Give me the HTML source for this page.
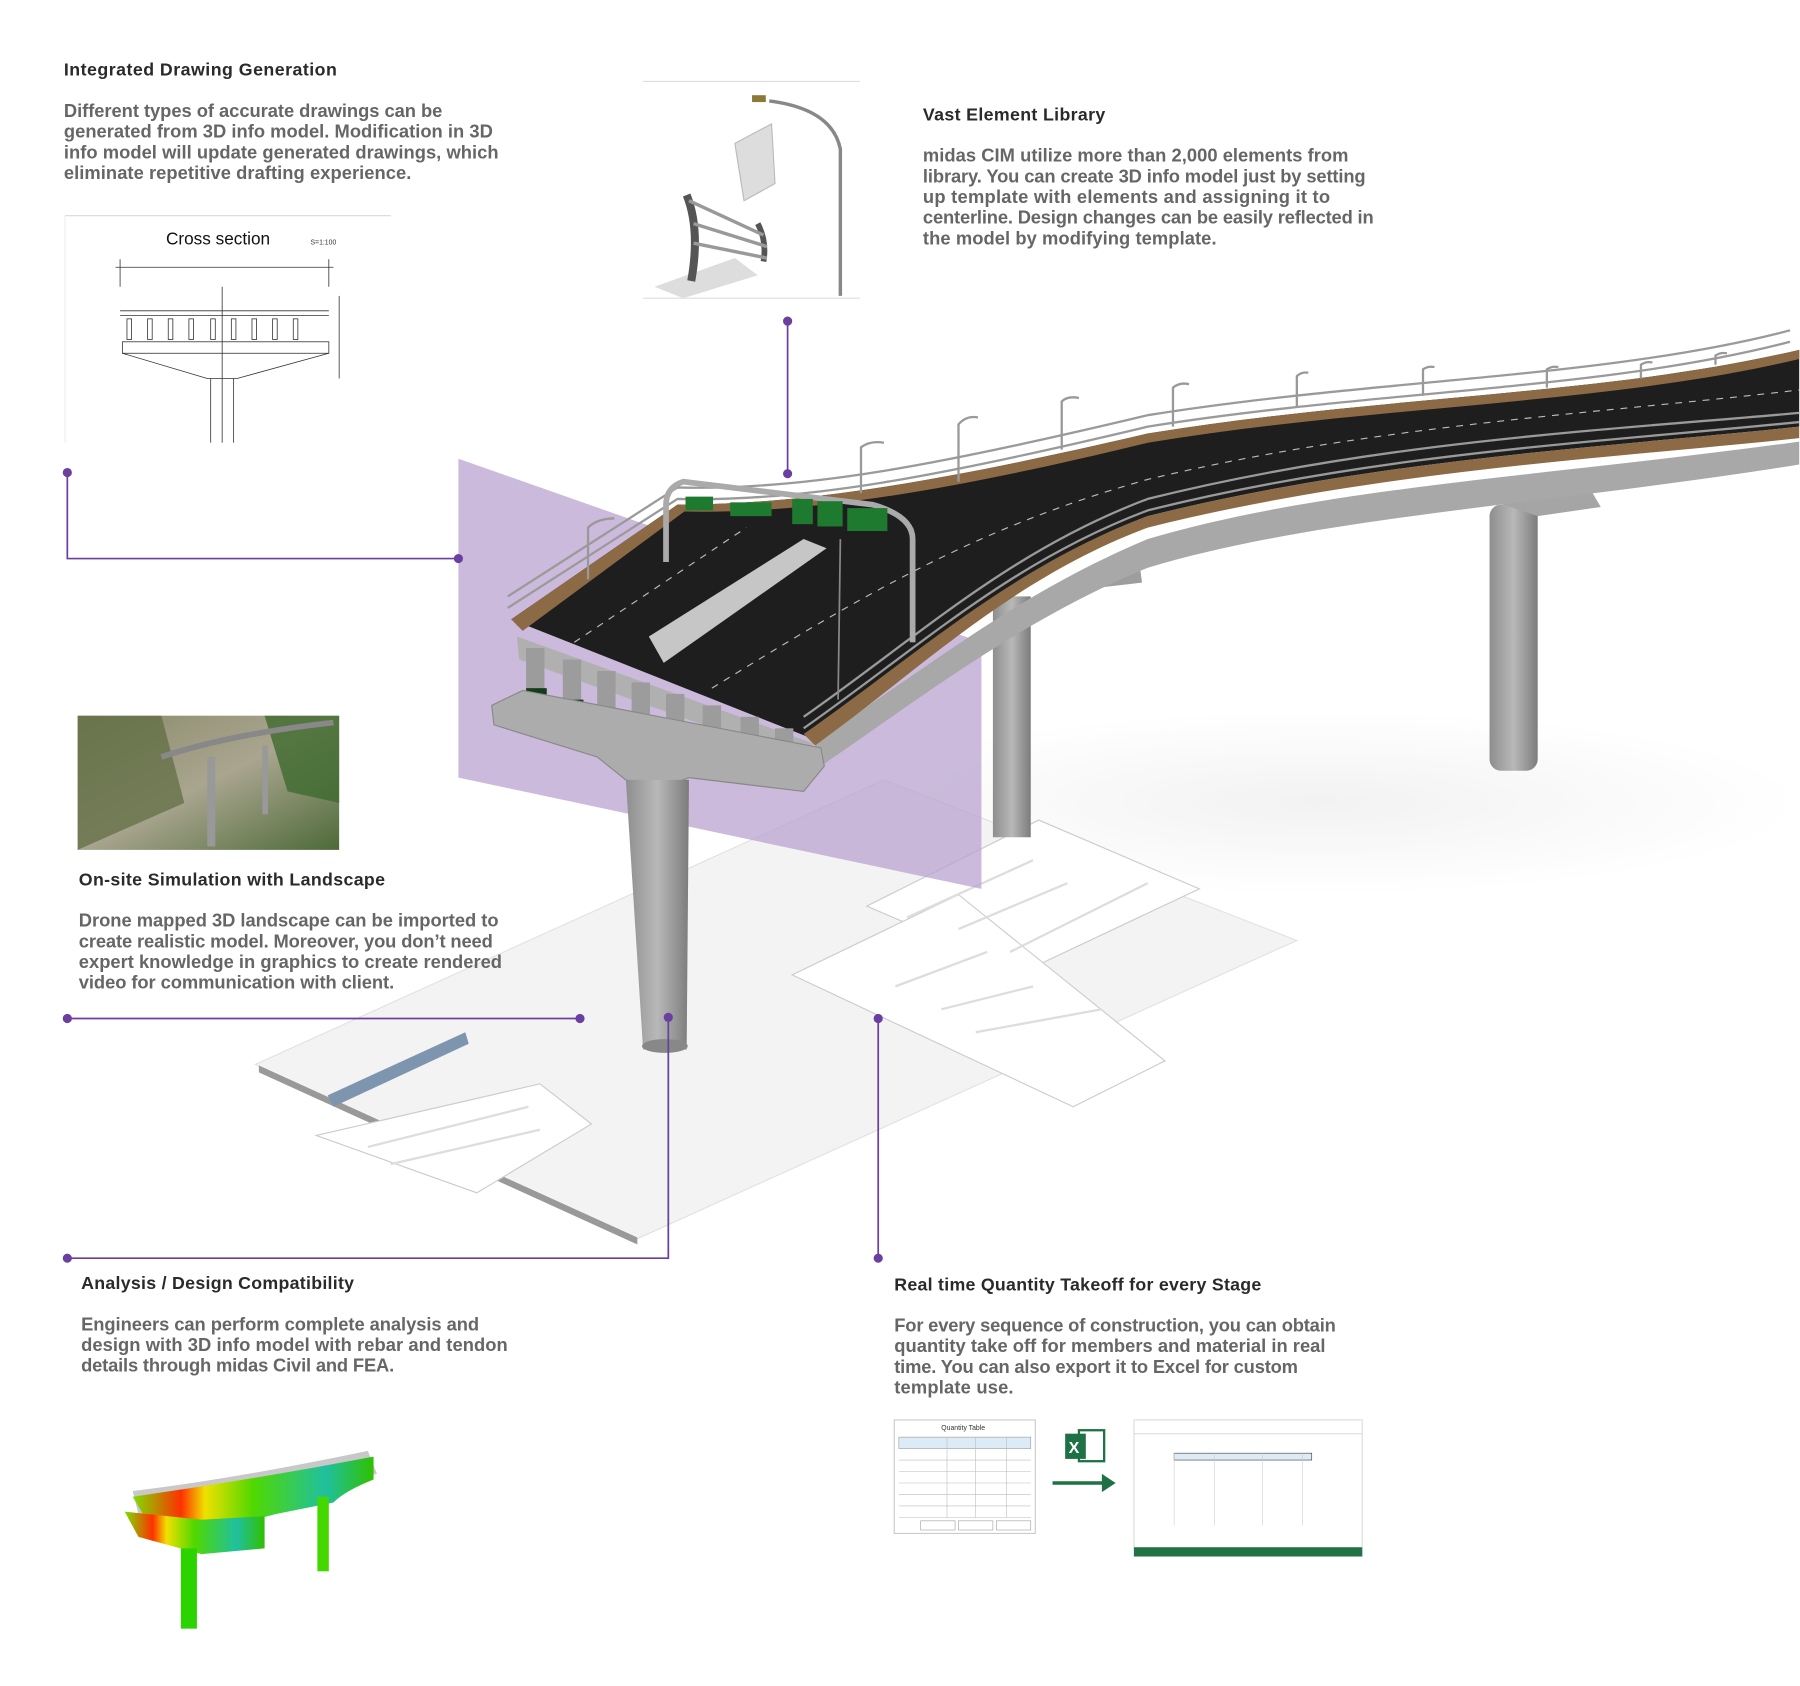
<!DOCTYPE html>
<html><head><meta charset="utf-8"><style>
html,body{margin:0;padding:0;background:#fff;}
svg{display:block;}
.t{font-family:"Liberation Sans",sans-serif;font-weight:bold;font-size:15.5px;fill:#2a2a2a;}
.b{font-family:"Liberation Sans",sans-serif;font-weight:bold;font-size:16px;fill:#666;}
.s{font-family:"Liberation Sans",sans-serif;font-size:6px;fill:#333;}
</style></head><body>
<svg width="1800" height="1686" viewBox="0 0 1568 1470" xmlns="http://www.w3.org/2000/svg">
<defs>
<linearGradient id="land" x1="0" y1="0" x2="1" y2="1"><stop offset="0" stop-color="#8a8a6a"/><stop offset="0.5" stop-color="#a9a58f"/><stop offset="1" stop-color="#4d6a38"/></linearGradient>
<linearGradient id="conc" x1="0" y1="0" x2="1" y2="0"><stop offset="0" stop-color="#8e8e8e"/><stop offset="0.5" stop-color="#b8b8b8"/><stop offset="1" stop-color="#7c7c7c"/></linearGradient>
<linearGradient id="fea" x1="0" y1="0" x2="1" y2="0"><stop offset="0" stop-color="#7ddf00"/><stop offset="0.2" stop-color="#ff3000"/><stop offset="0.3" stop-color="#f0e000"/><stop offset="0.5" stop-color="#50d800"/><stop offset="0.8" stop-color="#20c0a0"/><stop offset="1" stop-color="#30c000"/></linearGradient>
<radialGradient id="shd"><stop offset="0" stop-color="#f2f2f2"/><stop offset="1" stop-color="#fff"/></radialGradient>
</defs>

<ellipse cx="1150" cy="700" rx="420" ry="80" fill="url(#shd)"/>
<polygon points="222,928 770,680 1130,820 555,1080" fill="#f3f3f3" stroke="#e2e2e2"/>
<polygon points="225,935 555,1085 555,1079 225,929" fill="#999"/>
<polygon points="755,790 905,715 1045,775 890,848" fill="#fff" stroke="#ccc"/>
<polygon points="690,850 835,780 1015,925 935,965" fill="#fff" stroke="#ccc"/>
<polygon points="275,990 470,945 515,980 415,1040" fill="#fff" stroke="#ccc"/>
<polygon points="285,955 405,900 408,910 290,965" fill="#7e95b0"/>
<g stroke="#ddd" stroke-width="2" fill="none">
<line x1="790" y1="800" x2="900" y2="750"/><line x1="835" y1="810" x2="930" y2="770"/><line x1="880" y1="830" x2="1000" y2="770"/>
<line x1="780" y1="860" x2="860" y2="830"/><line x1="820" y1="880" x2="900" y2="860"/><line x1="850" y1="900" x2="960" y2="880"/>
<line x1="320" y1="1000" x2="460" y2="965"/><line x1="340" y1="1015" x2="470" y2="985"/>
</g>

<polygon points="399,400 855,560 855,775 399,678" fill="#b9a3cf" opacity="0.75"/>

<rect x="1298" y="440" width="42" height="232" rx="10" fill="url(#conc)"/>
<polygon points="1305,422 1385,425 1395,442 1340,450 1310,440" fill="#a5a5a5"/>
<rect x="865" y="520" width="33" height="210" fill="url(#conc)"/>
<polygon points="955,492 992,485 995,508 960,512" fill="#9d9d9d"/>

<path d="M710,645 C800,590 880,520 1000,470 C1150,425 1350,415 1568,385 L1568,405 C1350,440 1150,450 1000,495 C890,540 800,610 712,670 Z" fill="#a8a8a8"/>
<path d="M445,540 L590,440 C700,440 820,420 1000,378 C1200,345 1400,345 1568,305 L1568,372 C1400,390 1200,400 1000,450 C880,495 800,575 710,645 Z" fill="#1e1e1e"/>
<path d="M445,540 L590,440 L596,446 L455,550 Z" fill="#8b6a45"/>
<path d="M700,640 C800,570 880,495 1000,450 C1200,400 1400,390 1568,372 L1568,382 C1400,400 1200,410 1000,460 C880,505 800,585 710,650 Z" fill="#8b6a45"/>
<path d="M590,440 C700,440 820,420 1000,378 C1200,345 1400,345 1568,305 L1568,313 C1400,353 1200,353 1000,386 C820,430 700,448 596,446 Z" fill="#8b6a45"/>
<polygon points="565,555 700,470 720,478 578,578" fill="#c6c6c6"/>
<g stroke="#bbb" stroke-width="1" fill="none" stroke-dasharray="6 6">
<path d="M500,560 L650,460"/><path d="M620,600 C750,520 850,460 1000,418 C1200,370 1400,360 1568,340"/>
</g>
<g stroke="#9a9a9a" stroke-width="2" fill="none">
<path d="M442,520 L590,425 C700,428 820,405 1000,362 C1200,330 1400,330 1560,288"/>
<path d="M442,530 L590,435 C700,438 820,415 1000,372 C1200,340 1400,340 1560,298"/>
<path d="M700,625 C800,555 880,480 1000,435 C1200,385 1400,375 1568,360"/>
<path d="M700,635 C800,565 880,490 1000,445 C1200,395 1400,385 1568,368"/>
</g>
<g stroke="#888" stroke-width="1.5">
<line x1="730" y1="610" x2="732" y2="470"/><line x1="795" y1="560" x2="795" y2="460"/>
</g>
<path d="M580,490 L580,440 Q580,425 595,420 L760,440 Q795,450 795,470 L795,560" stroke="#aaa" stroke-width="5" fill="none"/>
<rect x="597" y="433" width="24" height="12" fill="#1d7a2e"/><rect x="636" y="438" width="36" height="12" fill="#1d7a2e"/>
<rect x="690" y="435" width="18" height="22" fill="#1d7a2e"/><rect x="712" y="437" width="22" height="22" fill="#1d7a2e"/><rect x="738" y="443" width="35" height="20" fill="#1d7a2e"/>
<polygon points="450,555 708,648 705,665 452,575" fill="#b0b0b0"/>
<g fill="#9c9c9c">
<rect x="458" y="565" width="16" height="40"/><rect x="490" y="575" width="16" height="42"/><rect x="520" y="585" width="16" height="42"/><rect x="550" y="595" width="16" height="42"/><rect x="580" y="605" width="16" height="42"/><rect x="612" y="615" width="16" height="42"/><rect x="645" y="625" width="16" height="42"/><rect x="675" y="635" width="16" height="40"/>
</g>
<g fill="#123d1a">
<rect x="458" y="600" width="18" height="8"/><rect x="490" y="610" width="18" height="8"/><rect x="520" y="620" width="18" height="8"/><rect x="550" y="630" width="18" height="8"/><rect x="580" y="640" width="18" height="8"/><rect x="612" y="650" width="18" height="8"/><rect x="645" y="660" width="18" height="8"/>
</g>
<polygon points="428,615 455,602 715,652 718,668 700,690 600,678 575,688 545,680 520,660 430,632" fill="#acacac" stroke="#888"/>
<polygon points="545,680 600,680 598,915 560,915" fill="url(#conc)"/>
<ellipse cx="579" cy="912" rx="20" ry="6" fill="#888"/>

<g stroke="#999" stroke-width="2" fill="none">
<path d="M512,505 L512,460 Q520,452 535,452"/><path d="M750,430 L750,390 Q758,384 770,386"/><path d="M835,420 L835,370 Q842,362 852,364"/><path d="M925,392 L925,350 Q930,345 940,347"/><path d="M1022,372 L1022,338 Q1028,333 1036,335"/><path d="M1130,354 L1130,328 Q1134,324 1140,325"/><path d="M1240,345 L1240,322 Q1244,319 1250,320"/><path d="M1348,338 L1348,322 Q1352,319 1358,320"/><path d="M1430,330 L1430,318 Q1434,315 1440,316"/><path d="M1495,318 L1495,310 Q1499,307 1505,308"/>
</g>

<g stroke="#6b3fa0" stroke-width="1.5" fill="none">
<polyline points="58,412 58,487 399,487"/>
<line x1="686" y1="280" x2="686" y2="413"/>
<line x1="58" y1="888" x2="505" y2="888"/>
<polyline points="582,887 582,1097 58,1097"/>
<line x1="765" y1="888" x2="765" y2="1097"/>
</g>
<g fill="#6b3fa0">
<circle cx="58" cy="412" r="4"/><circle cx="399" cy="487" r="4"/><circle cx="686" cy="280" r="4"/><circle cx="686" cy="413" r="4"/>
<circle cx="58" cy="888" r="4"/><circle cx="505" cy="888" r="4"/><circle cx="582" cy="887" r="4"/><circle cx="58" cy="1097" r="4"/><circle cx="765" cy="888" r="4"/><circle cx="765" cy="1097" r="4"/>
</g>

<line x1="56" y1="188" x2="340" y2="188" stroke="#ddd"/>
<line x1="56" y1="188" x2="56" y2="386" stroke="#eee"/>
<text x="144" y="213" font-family="Liberation Sans,sans-serif" font-size="15" fill="#111">Cross section</text>
<text x="270" y="213" class="s" font-size="9">S=1:100</text>
<g stroke="#333" stroke-width="0.7" fill="none">
<line x1="100" y1="233" x2="290" y2="233"/><line x1="104" y1="226" x2="104" y2="250"/><line x1="286" y1="226" x2="286" y2="250"/>
<line x1="104" y1="271" x2="286" y2="271"/><line x1="104" y1="275" x2="286" y2="275"/>
<rect x="110" y="278" width="4" height="18"/><rect x="128" y="278" width="4" height="18"/><rect x="146" y="278" width="4" height="18"/><rect x="164" y="278" width="4" height="18"/><rect x="183" y="278" width="4" height="18"/><rect x="201" y="278" width="4" height="18"/><rect x="219" y="278" width="4" height="18"/><rect x="237" y="278" width="4" height="18"/><rect x="255" y="278" width="4" height="18"/>
<rect x="106" y="298" width="180" height="10"/>
<path d="M106,308 L180,330 L206,330 L286,308"/>
<line x1="183" y1="330" x2="183" y2="386"/><line x1="203" y1="330" x2="203" y2="386"/><line x1="193" y1="250" x2="193" y2="386"/>
<line x1="295" y1="258" x2="295" y2="330"/>
</g>

<line x1="560" y1="71" x2="749" y2="71" stroke="#ddd"/>
<line x1="560" y1="260" x2="749" y2="260" stroke="#ddd"/>
<path d="M732,258 L732,130 Q725,95 670,88" stroke="#888" stroke-width="3" fill="none"/>
<rect x="655" y="83" width="12" height="6" fill="#8a7a3a"/>
<polygon points="640,125 672,108 675,160 648,175" fill="#ddd" stroke="#bbb"/>
<polygon points="570,250 640,225 660,240 595,260" fill="#ddd"/>
<path d="M598,170 Q610,200 602,245" stroke="#555" stroke-width="7" fill="none"/>
<path d="M660,195 Q668,210 665,228" stroke="#555" stroke-width="5" fill="none"/>
<g stroke="#999" stroke-width="3"><line x1="600" y1="175" x2="665" y2="205"/><line x1="604" y1="195" x2="668" y2="215"/><line x1="604" y1="212" x2="668" y2="225"/></g>

<rect x="67" y="624" width="228" height="117" fill="url(#land)"/>
<path d="M67,624 L140,624 L160,700 L67,741 Z" fill="#5d6b3e" opacity="0.7"/>
<path d="M230,624 L295,624 L295,700 L250,690 Z" fill="#3f6a2e" opacity="0.8"/>
<path d="M140,660 Q200,640 290,630" stroke="#888" stroke-width="5" fill="none"/>
<rect x="180" y="660" width="7" height="78" fill="#999"/><rect x="228" y="650" width="5" height="60" fill="#999"/>

<text class="t" x="55" y="66" textLength="238">Integrated Drawing Generation</text>
<text class="b" x="55" y="102" textLength="330">Different types of accurate drawings can be</text>
<text class="b" x="55" y="120" textLength="374">generated from 3D info model. Modification in 3D</text>
<text class="b" x="55" y="138" textLength="379">info model will update generated drawings, which</text>
<text class="b" x="55" y="156" textLength="303">eliminate repetitive drafting experience.</text>

<text class="t" x="804" y="105" textLength="159">Vast Element Library</text>
<text class="b" x="804" y="141" textLength="371">midas CIM utilize more than 2,000 elements from</text>
<text class="b" x="804" y="159" textLength="386">library. You can create 3D info model just by setting</text>
<text class="b" x="804" y="177" textLength="355">up template with elements and assigning it to</text>
<text class="b" x="804" y="195" textLength="393">centerline. Design changes can be easily reflected in</text>
<text class="b" x="804" y="213" textLength="256">the model by modifying template.</text>

<text class="t" x="68" y="772" textLength="267">On-site Simulation with Landscape</text>
<text class="b" x="68" y="808" textLength="366">Drone mapped 3D landscape can be imported to</text>
<text class="b" x="68" y="826" textLength="361">create realistic model. Moreover, you don’t need</text>
<text class="b" x="68" y="844" textLength="369">expert knowledge in graphics to create rendered</text>
<text class="b" x="68" y="862" textLength="275">video for communication with client.</text>

<text class="t" x="70" y="1124" textLength="238">Analysis / Design Compatibility</text>
<text class="b" x="70" y="1160" textLength="347">Engineers can perform complete analysis and</text>
<text class="b" x="70" y="1178" textLength="372">design with 3D info model with rebar and tendon</text>
<text class="b" x="70" y="1196" textLength="273">details through midas Civil and FEA.</text>

<text class="t" x="779" y="1125" textLength="320">Real time Quantity Takeoff for every Stage</text>
<text class="b" x="779" y="1161" textLength="385">For every sequence of construction, you can obtain</text>
<text class="b" x="779" y="1179" textLength="376">quantity take off for members and material in real</text>
<text class="b" x="779" y="1197" textLength="352">time. You can also export it to Excel for custom</text>
<text class="b" x="779" y="1215" textLength="104">template use.</text>

<path d="M115,1300 Q200,1290 320,1265 L328,1285 Q230,1310 120,1320 Z" fill="#c8c8c8"/>
<path d="M115,1305 Q220,1290 325,1270 L325,1290 Q300,1300 290,1310 L240,1320 Q200,1330 175,1340 L130,1330 Z" fill="url(#fea)"/>
<polygon points="108,1318 175,1325 230,1322 230,1350 175,1355 120,1340" fill="url(#fea)"/>
<rect x="157" y="1350" width="14" height="70" fill="#2bd400"/>
<rect x="276" y="1305" width="10" height="65" fill="#45d800"/>

<rect x="779" y="1238" width="123" height="99" fill="#fff" stroke="#ccc"/>
<text class="s" x="820" y="1247">Quantity Table</text>
<rect x="783" y="1253" width="115" height="10" fill="#dcebf5" stroke="#999" stroke-width="0.5"/>
<g stroke="#bbb" stroke-width="0.5"><line x1="783" y1="1273" x2="898" y2="1273"/><line x1="783" y1="1283" x2="898" y2="1283"/><line x1="783" y1="1293" x2="898" y2="1293"/><line x1="783" y1="1303" x2="898" y2="1303"/><line x1="783" y1="1313" x2="898" y2="1313"/><line x1="783" y1="1323" x2="898" y2="1323"/><line x1="825" y1="1253" x2="825" y2="1323"/><line x1="850" y1="1253" x2="850" y2="1323"/><line x1="877" y1="1253" x2="877" y2="1323"/></g>
<rect x="802" y="1326" width="30" height="8" fill="#fff" stroke="#999" stroke-width="0.5"/><rect x="835" y="1326" width="30" height="8" fill="#fff" stroke="#999" stroke-width="0.5"/><rect x="868" y="1326" width="30" height="8" fill="#fff" stroke="#999" stroke-width="0.5"/>
<rect x="940" y="1247" width="22" height="27" fill="#fff" stroke="#1e7145" stroke-width="2"/>
<rect x="928" y="1250" width="18" height="22" fill="#1e7145"/>
<text x="931" y="1267" font-family="Liberation Sans,sans-serif" font-weight="bold" font-size="14" fill="#fff">X</text>
<line x1="917" y1="1293" x2="962" y2="1293" stroke="#1e7145" stroke-width="3"/>
<polygon points="972,1293 960,1285 960,1301" fill="#1e7145"/>
<rect x="988" y="1238" width="199" height="119" fill="#fff" stroke="#ddd"/>
<line x1="988" y1="1250" x2="1187" y2="1250" stroke="#ddd"/>
<rect x="1023" y="1267" width="120" height="6" fill="#dcebf5" stroke="#333" stroke-width="0.5"/>
<g stroke="#ccc" stroke-width="0.5"><line x1="1058" y1="1267" x2="1058" y2="1330"/><line x1="1100" y1="1267" x2="1100" y2="1330"/><line x1="1135" y1="1267" x2="1135" y2="1330"/><line x1="1023" y1="1267" x2="1023" y2="1330"/></g>
<rect x="988" y="1349" width="199" height="8" fill="#217346"/>
</svg>
</body></html>
